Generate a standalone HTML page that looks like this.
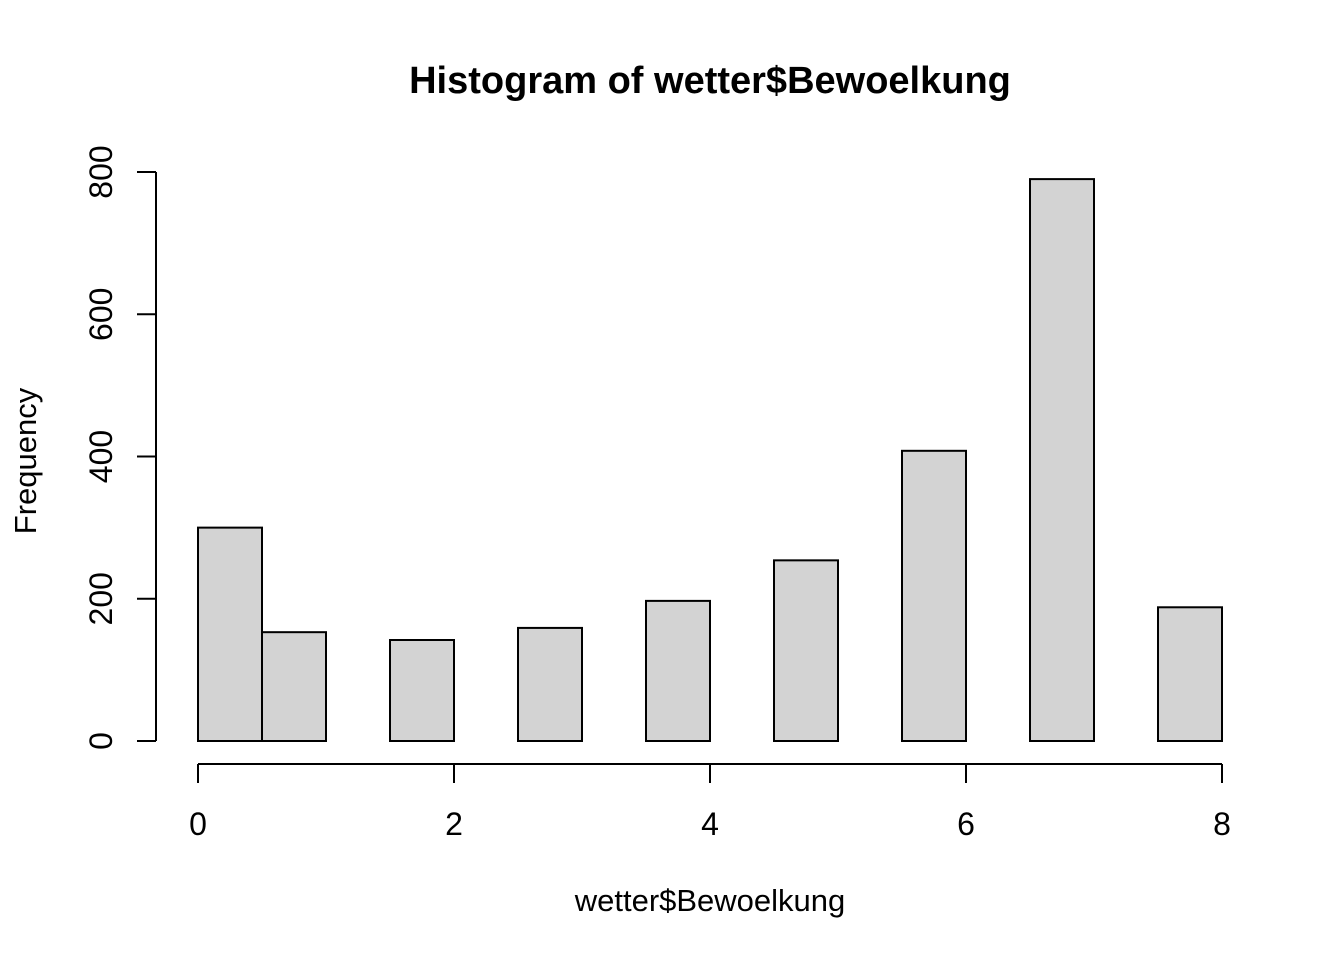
<!DOCTYPE html>
<html><head><meta charset="utf-8"><style>
html,body{margin:0;padding:0;background:#fff;}
svg{display:block;font-family:"Liberation Sans",Arial,sans-serif;}
</style></head><body>
<svg id="chart" width="1344" height="960" viewBox="0 0 1344 960">
<text x="710" y="93" text-anchor="middle" font-size="38" font-weight="bold">Histogram of wetter$Bewoelkung</text>
<text x="710" y="911" text-anchor="middle" font-size="31">wetter$Bewoelkung</text>
<text transform="translate(36,461) rotate(-90)" text-anchor="middle" font-size="31">Frequency</text>
<g id="bars"></g>
<g id="xaxis"></g>
<g id="yaxis"></g>
</svg>
<script>
const binStarts = [0,0.5,1,1.5,2,2.5,3,3.5,4,4.5,5,5.5,6,6.5,7,7.5];
const binWidth = 0.5;
const counts = [300,153,0,142,0,159,0,197,0,254,0,408,0,790,0,188];
const xTicks = [0,2,4,6,8];
const yTicks = [0,200,400,600,800];
const NS = "http://www.w3.org/2000/svg";
const sx = v => 198 + v * 128;
const sy = v => 741 - v * 0.71125;
function mk(tag, attrs, parent){const e=document.createElementNS(NS,tag);for(const k in attrs)e.setAttribute(k,attrs[k]);parent.appendChild(e);return e;}
const bars=document.getElementById('bars');
binStarts.forEach((b,i)=>{
  const x0=sx(b), x1=sx(b+binWidth), y=sy(counts[i]);
  const r=mk('rect',{x:x0,y:y,width:x1-x0,height:sy(0)-y,fill:'#d3d3d3',stroke:'#000','stroke-width':2},bars);
  
  
});
const xa=document.getElementById('xaxis');
const xl=mk('line',{x1:sx(xTicks[0]),x2:sx(xTicks[xTicks.length-1]),y1:764,y2:764,stroke:'#000','stroke-width':2},xa);


xTicks.forEach(t=>{
  mk('line',{x1:sx(t),x2:sx(t),y1:764,y2:783,stroke:'#000','stroke-width':2},xa);
  const tx=mk('text',{x:sx(t),y:835,'text-anchor':'middle','font-size':32},xa);
  tx.textContent=t;
  
  
});
const ya=document.getElementById('yaxis');
const yl=mk('line',{x1:156,x2:156,y1:sy(yTicks[yTicks.length-1]),y2:sy(yTicks[0]),stroke:'#000','stroke-width':2},ya);


yTicks.forEach(t=>{
  mk('line',{x1:137,x2:156,y1:sy(t),y2:sy(t),stroke:'#000','stroke-width':2},ya);
  const tx=mk('text',{transform:'translate(112,'+sy(t)+') rotate(-90)','text-anchor':'middle','font-size':32},ya);
  tx.textContent=t;
  
  
});
</script>
</body></html>
